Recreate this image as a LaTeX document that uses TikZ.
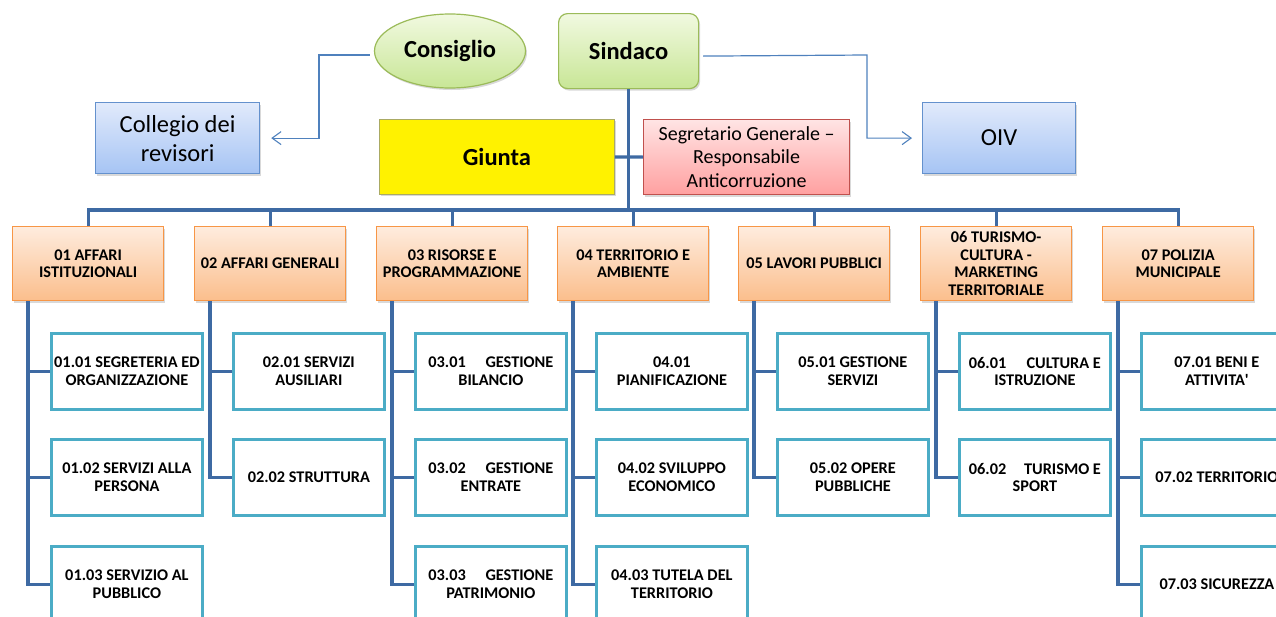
\documentclass[tikz,border=0pt]{standalone}
\usepackage{fontspec}
\setmainfont{Carlito}
\usetikzlibrary{arrows.meta,shadows,shapes.geometric}
\definecolor{spinec}{RGB}{62,106,163}
\definecolor{thinc}{RGB}{79,129,189}
\definecolor{greentop}{RGB}{241,249,224}
\definecolor{greenbot}{RGB}{200,230,150}
\definecolor{greenbd}{RGB}{155,187,89}
\definecolor{bluetop}{RGB}{225,234,251}
\definecolor{bluebot}{RGB}{166,196,244}
\definecolor{bluebd}{RGB}{100,145,205}
\definecolor{pinktop}{RGB}{255,228,228}
\definecolor{pinkbot}{RGB}{255,160,160}
\definecolor{pinkbd}{RGB}{192,80,77}
\definecolor{yelbd}{RGB}{170,170,100}
\definecolor{ortop}{RGB}{254,236,222}
\definecolor{orbot}{RGB}{251,190,140}
\definecolor{orbd}{RGB}{247,150,70}
\definecolor{subbd}{RGB}{75,172,198}
\begin{document}
\begin{tikzpicture}[x=1pt,y=-1pt,
  shd/.style={drop shadow={shadow xshift=1.5pt,shadow yshift=-2pt,opacity=0.25,fill=black!60}},
  topbox/.style={shd,draw,line width=1.2pt,anchor=north west,inner sep=0pt,align=center,
     font=\fontsize{24.5}{29}\selectfont},
  greenbox/.style={topbox,top color=greentop,bottom color=greenbot,draw=greenbd,font=\fontsize{24.5}{29}\selectfont\bfseries},
  bluebox/.style={topbox,top color=bluetop,bottom color=bluebot,draw=bluebd},
  deptbox/.style={shd,draw=orbd,line width=1.3pt,top color=ortop,bottom color=orbot,
     anchor=north west,inner sep=0pt,minimum width=151pt,minimum height=74pt,align=center,
     font=\fontsize{16.3}{17.6}\selectfont\bfseries},
  subbox/.style={draw=subbd,line width=2.8pt,fill=white,anchor=north west,inner sep=0pt,
     minimum width=151pt,minimum height=76pt,align=center,
     font=\fontsize{16.3}{17.6}\selectfont\bfseries},
  spine/.style={draw=spinec,line width=3.2pt},
  thinarr/.style={draw=thinc,line width=1.2pt,-{Straight Barb[length=9pt,width=13pt,line width=1.1pt]}},
]
\useasboundingbox (0,0) rectangle (1276,616);
\clip (0,0) rectangle (1276,616);

% top level
\node[greenbox,ellipse,anchor=center,minimum width=151pt,minimum height=74pt] (consiglio) at (450,51) {Consiglio};
\node[greenbox,rounded corners=9pt,minimum width=140pt,minimum height=75pt] (sindaco) at (558,13) {Sindaco};
\node[bluebox,minimum width=164pt,minimum height=71pt] (collegio) at (95,102) {Collegio dei\\revisori};
\node[bluebox,minimum width=153pt,minimum height=71pt] (oiv) at (922,102) {OIV};
\node[topbox,fill=yellow,draw=yelbd,line width=0.8pt,minimum width=235pt,minimum height=75pt,
      font=\fontsize{24.5}{29}\selectfont\bfseries] (giunta) at (379,119) {Giunta};
\node[topbox,top color=pinktop,bottom color=pinkbot,draw=pinkbd,minimum width=206pt,minimum height=75pt,
      font=\fontsize{20}{23.3}\selectfont] (segr) at (643,119) {Segretario Generale --\\Responsabile\\Anticorruzione};

% departments
\node[deptbox] (d1) at (12,226) {01 AFFARI\\ISTITUZIONALI};
\node[deptbox] (d2) at (194,226) {02 AFFARI GENERALI};
\node[deptbox] (d3) at (376,226) {03 RISORSE E\\PROGRAMMAZIONE};
\node[deptbox] (d4) at (557,226) {04 TERRITORIO E\\AMBIENTE};
\node[deptbox] (d5) at (738,226) {05 LAVORI PUBBLICI};
\node[deptbox] (d6) at (920,226) {06 TURISMO-\\CULTURA -\\MARKETING\\TERRITORIALE};
\node[deptbox] (d7) at (1102,226) {07 POLIZIA\\MUNICIPALE};

% sub units
\node[subbox] (s11) at (50,332) {01.01 SEGRETERIA ED\\ORGANIZZAZIONE};
\node[subbox] (s12) at (50,438) {01.02 SERVIZI ALLA\\PERSONA};
\node[subbox] (s13) at (50,545) {01.03 SERVIZIO AL\\PUBBLICO};
\node[subbox] (s21) at (232,332) {02.01 SERVIZI\\AUSILIARI};
\node[subbox] (s22) at (232,438) {02.02 STRUTTURA};
\node[subbox] (s31) at (414,332) {\makebox[125pt]{03.01\hfill GESTIONE}\\BILANCIO};
\node[subbox] (s32) at (414,438) {\makebox[125pt]{03.02\hfill GESTIONE}\\ENTRATE};
\node[subbox] (s33) at (414,545) {\makebox[125pt]{03.03\hfill GESTIONE}\\PATRIMONIO};
\node[subbox] (s41) at (595,332) {04.01\\PIANIFICAZIONE};
\node[subbox] (s42) at (595,438) {04.02 SVILUPPO\\ECONOMICO};
\node[subbox] (s43) at (595,545) {04.03 TUTELA DEL\\TERRITORIO};
\node[subbox] (s51) at (776,332) {05.01 GESTIONE\\SERVIZI};
\node[subbox] (s52) at (776,438) {05.02 OPERE\\PUBBLICHE};
\node[subbox] (s61) at (958,332) {\makebox[132pt]{06.01\hfill CULTURA E}\\ISTRUZIONE};
\node[subbox] (s62) at (958,438) {\makebox[132pt]{06.02\hfill TURISMO E}\\SPORT};
\node[subbox] (s71) at (1140,332) {07.01 BENI E\\ATTIVITA\textquotesingle};
\node[subbox] (s72) at (1140,438) {07.02 TERRITORIO};
\node[subbox] (s73) at (1140,545) {07.03 SICUREZZA};

% connectors top
\coordinate (bar) at (630,210);
\draw[spine] (sindaco.south) -- (sindaco.south |- bar);
\draw[spine] (giunta.east) -- (segr.west);
\draw[spine] (d1.north) -- (d1.north |- bar) -- (d7.north |- bar) -- (d7.north);
\foreach \d in {d2,d3,d4,d5,d6}{\draw[spine] (\d.north) -- (\d.north |- bar);}

\draw[thinarr] ([xshift=-4pt,yshift=-4pt]consiglio.west) -- ++(-51,0) |- ([xshift=11pt]collegio.east);
\draw[thinarr] ([xshift=4pt,yshift=-5pt]sindaco.east) -- (867,55) |- ([xshift=-10pt]oiv.west);

% spines
\foreach \d/\last in {d1/s13,d2/s22,d3/s33,d4/s43,d5/s52,d6/s62,d7/s73}{
  \coordinate (p\d) at ([xshift=16pt]\d.south west);
  \draw[spine] (p\d) |- (\last.west);
}
\foreach \s/\d in {s11/d1,s12/d1,s21/d2,s31/d3,s32/d3,s41/d4,s42/d4,s51/d5,s61/d6,s71/d7,s72/d7}{
  \draw[spine] (\s.west) -- (\s.west -| p\d);
}
\end{tikzpicture}
\end{document}
